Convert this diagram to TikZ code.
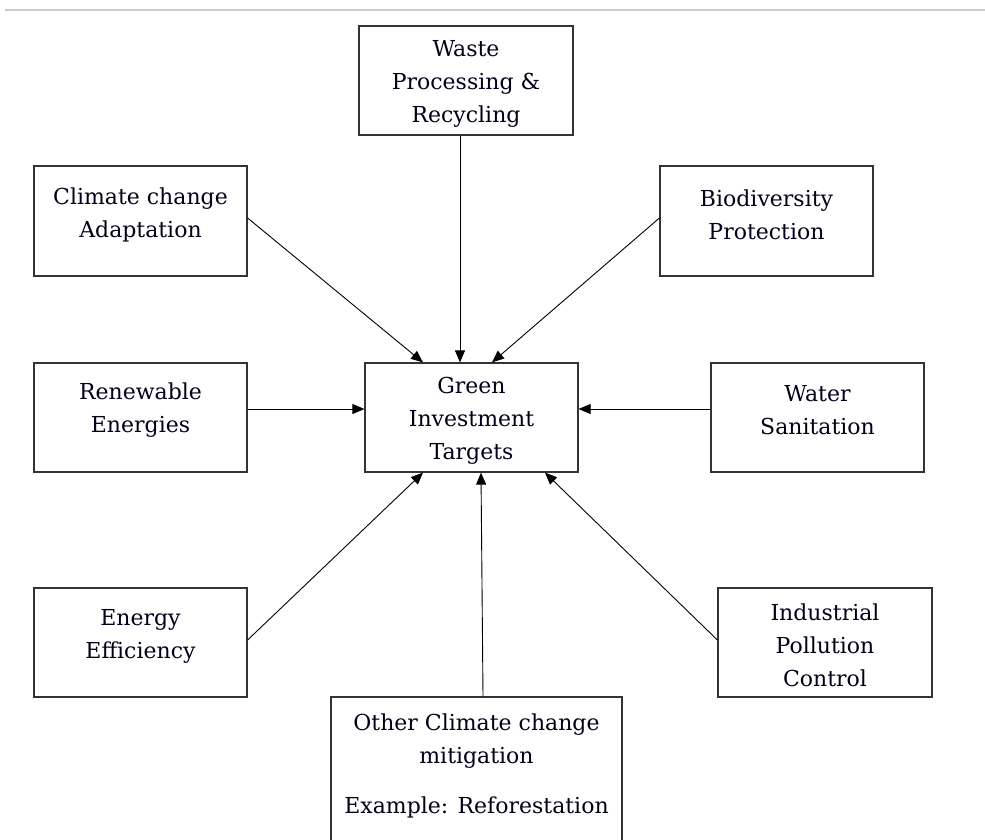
\documentclass[tikz,border=0pt]{standalone}
\usepackage{fontspec}
\setmainfont{DejaVu Serif}
\usetikzlibrary{arrows.meta}
\begin{document}
\begin{tikzpicture}[x=1pt,y=-1pt,
  box/.style={draw=black!80,line width=1.2pt,minimum width=213pt,minimum height=109pt,inner sep=0pt},
  lbl/.style={align=center,font=\fontsize{22pt}{33pt}\selectfont,text=black!90!blue,inner sep=0pt},
  arr/.style={draw=black,line width=0.9pt,-{Triangle[length=12pt,width=10pt]}}]
\useasboundingbox (0,0) rectangle (985,839);
\fill[white] (0,0) rectangle (985,839);
\draw[black!20,line width=1.8pt] (5,10) coordinate (tl) -- (985,10) coordinate (tr);
% boxes
\node[box,minimum width=214pt] (waste) at (466,80.5) {};
\node[box,minimum height=110pt] (cca) at (140.5,221) {};
\node[box,minimum height=110pt] (bio) at (766.5,221) {};
\node[box] (ren) at (140.5,417.5) {};
\node[box] (green) at (471.5,417.5) {};
\node[box] (water) at (817.5,417.5) {};
\node[box] (eff) at (140.5,642.5) {};
\node[box,minimum width=214pt] (ind) at (825,642.5) {};
\node[box,minimum width=291pt,minimum height=170pt] (other) at (476.5,782) {};
% labels
\node[lbl] (wastet) at (466,84) {Waste\\Processing \&\\Recycling};
\node[lbl] (ccat) at (140.5,215) {Climate change\\Adaptation};
\node[lbl] (biot) at (766.5,215) {Biodiversity\\Protection};
\node[lbl] (rent) at (140.5,410) {Renewable\\Energies};
\node[lbl] (greent) at (471.5,420.5) {Green\\Investment\\Targets};
\node[lbl] (watert) at (817.5,410) {Water\\Sanitation};
\node[lbl] (efft) at (140.5,636) {Energy\\Efficiency};
\node[lbl] (indt) at (825,645.5) {Industrial\\Pollution\\Control};
\node[lbl] (othert) at (476.5,766) {Other Climate change\\mitigation\\[17pt]Example: Reforestation};
% arrows
\draw[arr] ([xshift=-6pt]waste.south) -- ([xshift=-11.5pt]green.north);
\draw[arr] ([yshift=3pt]cca.east) -- ([xshift=-48.5pt]green.north);
\draw[arr] ([yshift=3pt]bio.west) -- ([xshift=20.5pt]green.north);
\draw[arr] ([yshift=8.5pt]ren.east) -- ([yshift=8.5pt]green.west);
\draw[arr] ([yshift=8.5pt]water.west) -- ([yshift=8.5pt]green.east);
\draw[arr] ([yshift=2.5pt]eff.east) -- ([xshift=-48.5pt]green.south);
\draw[arr] ([xshift=6.5pt]other.north) -- ([xshift=9.5pt]green.south);
\draw[arr] ([yshift=2.5pt]ind.west) -- ([xshift=73.5pt]green.south);
\end{tikzpicture}
\end{document}
